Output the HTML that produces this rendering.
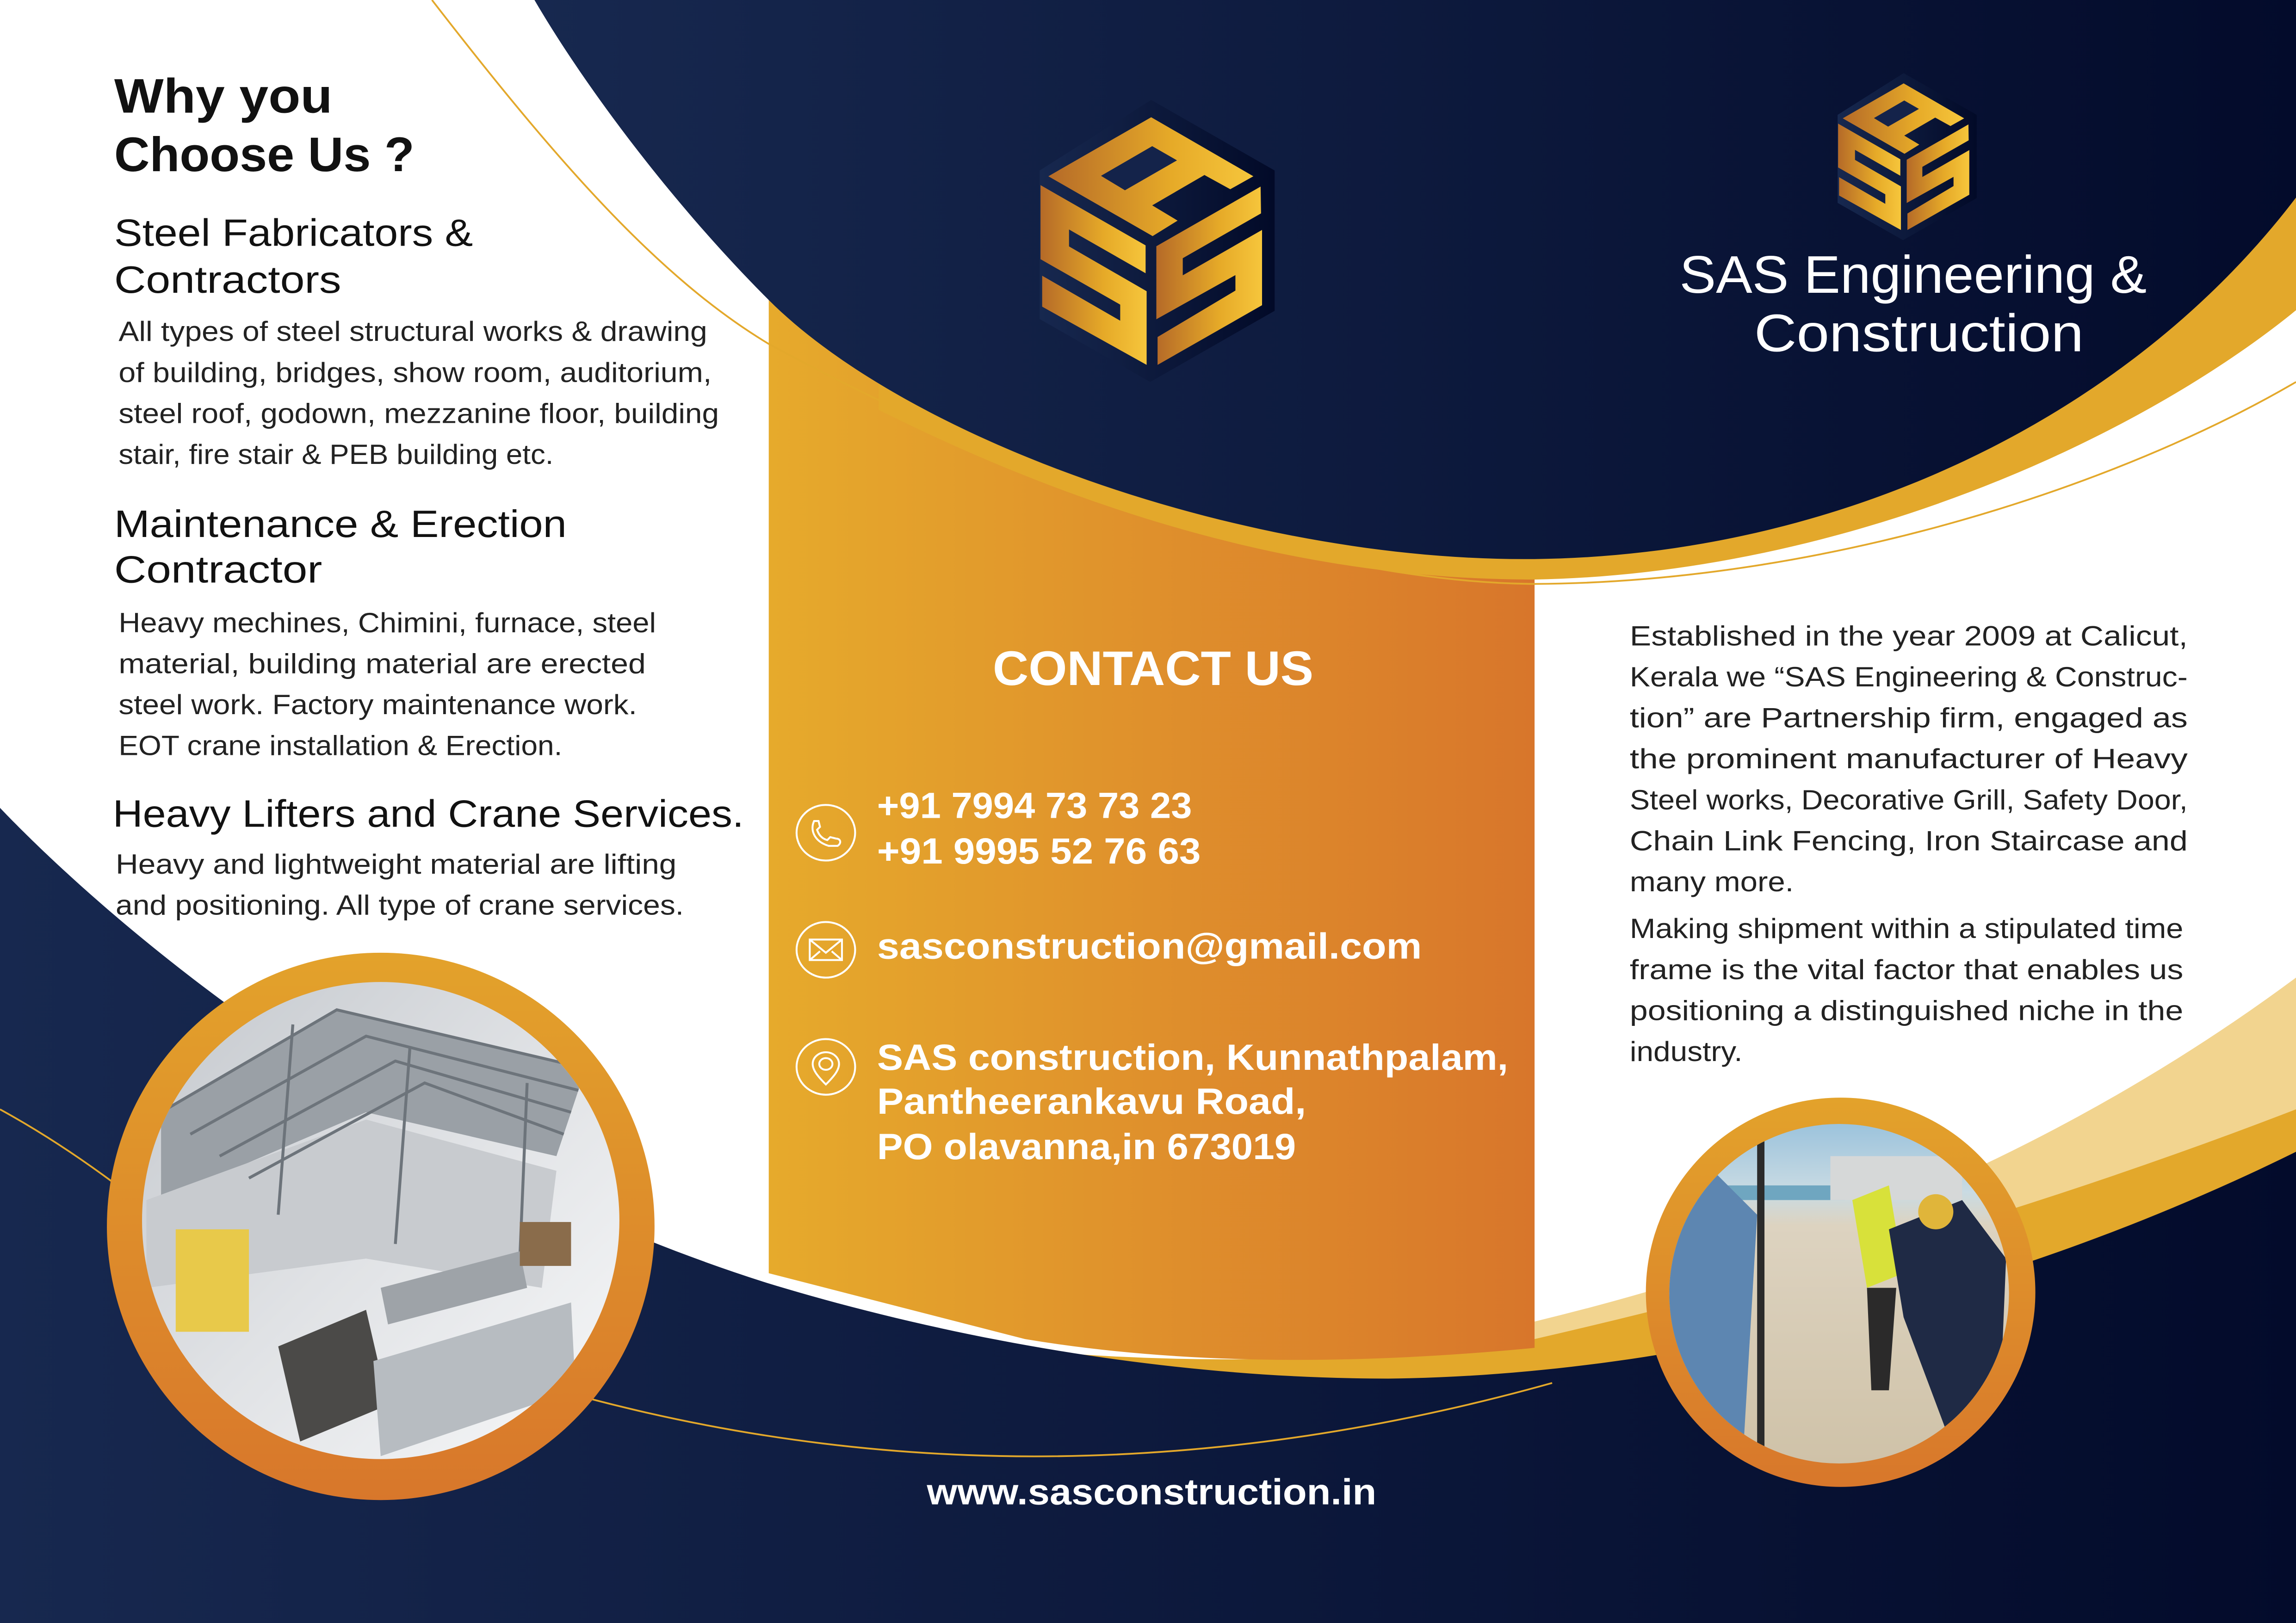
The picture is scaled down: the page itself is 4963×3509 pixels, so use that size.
<!DOCTYPE html>
<html><head><meta charset="utf-8"><style>
html,body{margin:0;padding:0;background:#fff;}
svg{display:block;}
text{font-family:"Liberation Sans",sans-serif;}
</style></head><body>
<svg width="4963" height="3509" viewBox="0 0 1568 1109" preserveAspectRatio="none" xmlns="http://www.w3.org/2000/svg">
<defs>
<linearGradient id="nav" x1="0" y1="0" x2="1" y2="0"><stop offset="0" stop-color="#17284f"/><stop offset="1" stop-color="#030b2b"/></linearGradient>
<linearGradient id="org" x1="0" y1="0" x2="1" y2="0"><stop offset="0" stop-color="#e6aa2c"/><stop offset="1" stop-color="#d8762b"/></linearGradient>
<linearGradient id="ring" x1="0" y1="0" x2="0" y2="1"><stop offset="0" stop-color="#e3a22b"/><stop offset="1" stop-color="#d8772b"/></linearGradient>
<linearGradient id="lg" x1="0" y1="0" x2="1" y2="0"><stop offset="0" stop-color="#b56a28"/><stop offset="0.6" stop-color="#e6aa28"/><stop offset="1" stop-color="#f6c63c"/></linearGradient>
<linearGradient id="sh" x1="0" y1="0" x2="1" y2="0"><stop offset="0" stop-color="#17284f"/><stop offset="1" stop-color="#020a28"/></linearGradient>
<linearGradient id="photoL" x1="0" y1="0" x2="1" y2="1"><stop offset="0" stop-color="#c4c8cd"/><stop offset="0.5" stop-color="#e0e2e5"/><stop offset="1" stop-color="#f7f8f9"/></linearGradient>
<linearGradient id="photoR" x1="0" y1="0" x2="0" y2="1"><stop offset="0" stop-color="#9cc3dc"/><stop offset="0.2" stop-color="#c9dbe3"/><stop offset="0.3" stop-color="#ddd3c0"/><stop offset="1" stop-color="#cfc2a8"/></linearGradient>
<g id="logo">
<polygon points="870,148 1468,490 1468,1170 865,1515 330,1210 330,490" fill="url(#sh)"/>
<polygon points="372,518 870,232 1365,518 1253,581 1128,512 875,659 998,733 877,808" fill="url(#lg)"/>
<polygon points="627,516 875,372 995,441 743,586" fill="#14234a"/>
<polygon points="334,561 843,853 843,988 472,776 472,858 848,1075 848,1432 342,1150 342,1000 720,1218 720,1140 334,920" fill="url(#lg)"/>
<polygon points="895,857 1400,568 1402,698 1023,915 1023,998 1407,778 1407,1143 901,1432 901,1297 1278,1072 1278,997 895,1211" fill="url(#lg)"/>
</g>
<clipPath id="cl"><circle cx="260" cy="834" r="163"/></clipPath>
<clipPath id="cr"><circle cx="1256" cy="884" r="116"/></clipPath>
</defs>

<rect width="1568" height="1109" fill="#fff"/>
<path d="M1048,903 Q1350,830 1568,668 L1568,1109 L1048,1109 Z" fill="#f2d48f"/>
<path d="M600,910 Q820,945 1048,915 Q1330,850 1568,758 L1568,1109 L600,1109 Z" fill="#e3a82b"/>
<path d="M525,150 L1048,150 L1048,921 Q850,940 700,915 L525,870 Z" fill="url(#org)"/>
<path d="M0,552 C60,615 250,790 525,877 C650,915 800,942 948,942 C1150,940 1380,880 1568,787 L1568,1109 L0,1109 Z" fill="url(#nav)"/>
<path d="M600,280 C800,380 950,396 1048,396 C1260,392 1460,300 1568,212 L1568,0 L600,0 Z" fill="#e3a82b"/>
<path d="M365,0 L1568,0 L1568,135 C1450,290 1250,380 1048,382 C850,384 620,300 525,205 C460,140 400,60 365,0 Z" fill="url(#nav)"/>
<path d="M295,0 C380,110 450,190 525,235 C700,330 900,398 1048,399 C1250,398 1450,330 1568,261" fill="none" stroke="#e3a82b" stroke-width="1.2"/>
<path d="M0,758 Q40,780 80,810" fill="none" stroke="#e3a82b" stroke-width="1.2"/>
<path d="M400,955 Q720,1040 1060,945" fill="none" stroke="#e3a82b" stroke-width="1.2"/>

<use href="#logo" transform="translate(663.5,47.4) scale(0.141)"/>
<use href="#logo" transform="translate(1227.4,37.6) scale(0.0835)"/>

<circle cx="260" cy="838" r="187" fill="url(#ring)"/>
<circle cx="260" cy="834" r="163" fill="url(#photoL)"/>
<g clip-path="url(#cl)">
<polygon points="110,760 230,690 400,730 380,790 250,760 110,820" fill="#9aa0a6"/>
<polygon points="100,820 250,765 380,800 370,880 250,860 100,880" fill="#c8cbcf"/>
<rect x="120" y="840" width="50" height="70" fill="#e8c94a"/>
<g stroke="#6d747b" stroke-width="2" fill="none">
<path d="M110,760 L230,690 L400,730"/><path d="M130,775 L250,708 L395,745"/><path d="M150,790 L270,725 L390,760"/><path d="M170,805 L290,740 L385,775"/><path d="M200,700 L190,830"/><path d="M280,715 L270,850"/><path d="M360,740 L355,860"/></g>
<polygon points="190,920 250,895 265,960 205,985" fill="#4b4a48"/>
<polygon points="260,880 355,855 360,880 265,905" fill="#9ea3a8"/>
<polygon points="255,930 390,890 393,950 260,995" fill="#b7bcc1"/>
<rect x="355" y="835" width="35" height="30" fill="#8a6c4b"/>
</g>

<circle cx="1257" cy="883" r="133" fill="url(#ring)"/>
<circle cx="1256" cy="884" r="116" fill="url(#photoR)"/>
<g clip-path="url(#cr)">
<rect x="1140" y="810" width="120" height="10" fill="#6fa6c0"/>
<rect x="1250" y="790" width="90" height="30" fill="#d6d8d8"/>
<path d="M1140,820 L1170,800 L1200,830 L1190,1000 L1140,1000 Z" fill="#5d86b1"/>
<rect x="1200" y="760" width="5" height="240" fill="#2b2b2b"/>
<path d="M1265,820 L1290,810 L1300,870 L1275,880 Z" fill="#d8e13a"/>
<path d="M1290,840 L1340,820 L1370,860 L1365,980 L1330,980 L1300,900 Z" fill="#1f2a45"/>
<circle cx="1322" cy="828" r="12" fill="#e0b53a"/>
<path d="M1275,880 L1295,880 L1290,950 L1278,950 Z" fill="#2b2a2a"/>
</g>

<g fill="#111">
<text x="78" y="77" font-size="33" font-weight="bold" textLength="149" lengthAdjust="spacingAndGlyphs">Why you</text>
<text x="78" y="117" font-size="33" font-weight="bold" textLength="205" lengthAdjust="spacingAndGlyphs">Choose Us ?</text>
<text x="78" y="168" font-size="26" textLength="245" lengthAdjust="spacingAndGlyphs">Steel Fabricators &amp;</text>
<text x="78" y="200" font-size="26" textLength="155" lengthAdjust="spacingAndGlyphs">Contractors</text>
</g>
<g fill="#222" font-size="19">
<text x="81" y="233" textLength="402" lengthAdjust="spacingAndGlyphs">All types of steel structural works &amp; drawing</text>
<text x="81" y="261" textLength="405" lengthAdjust="spacingAndGlyphs">of building, bridges, show room, auditorium,</text>
<text x="81" y="289" textLength="410" lengthAdjust="spacingAndGlyphs">steel roof, godown, mezzanine floor, building</text>
<text x="81" y="317" textLength="297" lengthAdjust="spacingAndGlyphs">stair, fire stair &amp; PEB building etc.</text>
</g>
<g fill="#111" font-size="26">
<text x="78" y="367" textLength="309" lengthAdjust="spacingAndGlyphs">Maintenance &amp; Erection</text>
<text x="78" y="398" textLength="142" lengthAdjust="spacingAndGlyphs">Contractor</text>
</g>
<g fill="#222" font-size="19">
<text x="81" y="432" textLength="367" lengthAdjust="spacingAndGlyphs">Heavy mechines, Chimini, furnace, steel</text>
<text x="81" y="460" textLength="360" lengthAdjust="spacingAndGlyphs">material, building material are erected</text>
<text x="81" y="488" textLength="354" lengthAdjust="spacingAndGlyphs">steel work. Factory maintenance work.</text>
<text x="81" y="516" textLength="303" lengthAdjust="spacingAndGlyphs">EOT crane installation &amp; Erection.</text>
</g>
<text x="77" y="565" font-size="26" fill="#111" textLength="431" lengthAdjust="spacingAndGlyphs">Heavy Lifters and Crane Services.</text>
<g fill="#222" font-size="19">
<text x="79" y="597" textLength="383" lengthAdjust="spacingAndGlyphs">Heavy and lightweight material are lifting</text>
<text x="79" y="625" textLength="388" lengthAdjust="spacingAndGlyphs">and positioning. All type of crane services.</text>
</g>

<g fill="#fff" font-weight="bold">
<text x="678" y="468" font-size="33" textLength="219" lengthAdjust="spacingAndGlyphs">CONTACT US</text>
<text x="599" y="559" font-size="25" textLength="215" lengthAdjust="spacingAndGlyphs">+91 7994 73 73 23</text>
<text x="599" y="590" font-size="25" textLength="221" lengthAdjust="spacingAndGlyphs">+91 9995 52 76 63</text>
<text x="599" y="655" font-size="25" textLength="372" lengthAdjust="spacingAndGlyphs">sasconstruction@gmail.com</text>
<text x="599" y="731" font-size="25" textLength="431" lengthAdjust="spacingAndGlyphs">SAS construction, Kunnathpalam,</text>
<text x="599" y="761" font-size="25" textLength="293" lengthAdjust="spacingAndGlyphs">Pantheerankavu Road,</text>
<text x="599" y="792" font-size="25" textLength="286" lengthAdjust="spacingAndGlyphs">PO olavanna,in 673019</text>
<text x="633" y="1028" font-size="25" textLength="307" lengthAdjust="spacingAndGlyphs">www.sasconstruction.in</text>
</g>
<g fill="none" stroke="#fff" stroke-width="1.3">
<ellipse cx="564" cy="569" rx="20" ry="19"/>
<path d="M556,561 C553,567 556,575 566,578 L572,578 C575,576 574,573 571,573 L567,572 L565,574 C561,573 559,570 558,567 L560,565 L559,561 Z"/>
<ellipse cx="564" cy="649" rx="20" ry="19"/>
<rect x="553" y="642" width="22" height="14"/><path d="M553,642 L564,651 L575,642 M553,656 L560,650 M575,656 L568,650"/>
<ellipse cx="564" cy="729" rx="20" ry="19"/>
<path d="M564,741 C558,735 555,731 555,727 A9,8 0 1 1 573,727 C573,731 570,735 564,741 Z"/><ellipse cx="564" cy="727" rx="4.5" ry="4"/>
</g>

<g fill="#fff" font-size="36">
<text x="1147" y="200" textLength="319" lengthAdjust="spacingAndGlyphs">SAS Engineering &amp;</text>
<text x="1198" y="240" textLength="225" lengthAdjust="spacingAndGlyphs">Construction</text>
</g>
<g fill="#222" font-size="19">
<text x="1113" y="441" textLength="381" lengthAdjust="spacingAndGlyphs">Established in the year 2009 at Calicut,</text>
<text x="1113" y="469" textLength="381" lengthAdjust="spacingAndGlyphs">Kerala we “SAS Engineering &amp; Construc-</text>
<text x="1113" y="497" textLength="381" lengthAdjust="spacingAndGlyphs">tion” are Partnership firm, engaged as</text>
<text x="1113" y="525" textLength="381" lengthAdjust="spacingAndGlyphs">the prominent manufacturer of Heavy</text>
<text x="1113" y="553" textLength="381" lengthAdjust="spacingAndGlyphs">Steel works, Decorative Grill, Safety Door,</text>
<text x="1113" y="581" textLength="381" lengthAdjust="spacingAndGlyphs">Chain Link Fencing, Iron Staircase and</text>
<text x="1113" y="609" textLength="112" lengthAdjust="spacingAndGlyphs">many more.</text>
<text x="1113" y="641" textLength="378" lengthAdjust="spacingAndGlyphs">Making shipment within a stipulated time</text>
<text x="1113" y="669" textLength="378" lengthAdjust="spacingAndGlyphs">frame is the vital factor that enables us</text>
<text x="1113" y="697" textLength="378" lengthAdjust="spacingAndGlyphs">positioning a distinguished niche in the</text>
<text x="1113" y="725" textLength="77" lengthAdjust="spacingAndGlyphs">industry.</text>
</g>
</svg>
</body></html>
